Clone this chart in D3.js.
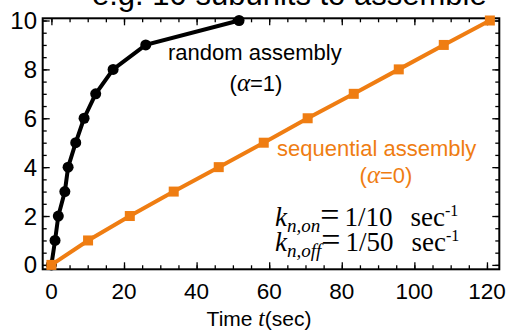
<!DOCTYPE html>
<html>
<head>
<meta charset="utf-8">
<script src="https://cdn.jsdelivr.net/npm/d3@7"></script>
<style>
  body { margin: 0; background: #fff; }
  svg { display: block; font-family: "Liberation Sans", Arial, sans-serif; }
</style>
</head>
<body>
<div id="area"></div>
<script>
// number of assembled subunits vs time
var randomTime = [0, 1.0, 1.9, 3.7, 4.6, 6.7, 9.0, 12.2, 17.0, 26.0, 51.7];
var randomCount = [0, 1, 2, 3, 4, 5, 6, 7, 8, 9, 10];
var seqTime = [0, 10.1, 21.6, 33.7, 46.1, 58.5, 70.6, 83.3, 95.7, 108.1, 120.8];
var seqCount = [0, 1, 2, 3, 4, 5, 6, 7, 8, 9, 10];
var xTicks = [0, 20, 40, 60, 80, 100, 120];
var yTicks = [0, 2, 4, 6, 8, 10];

var width = 507, height = 333;
var pLeft = 42.7, pRight = 499.3, pTop = 18.3, pBottom = 269.3;
var orange = "#ef7d12";

var x = d3.scaleLinear().domain([-2.4, 123.4]).range([pLeft, pRight]);
var y = d3.scaleLinear().domain([-0.18, 10.09]).range([pBottom, pTop]);

var svg = d3.select("#area")
  .append("svg")
  .attr("width", width)
  .attr("height", height);

// title, cut off at the top edge
svg.append("text")
  .attr("x", 92).attr("y", 5)
  .attr("font-size", 31)
  .text("e.g. 10 subunits to assemble");

// inward ticks on all four sides
var minorX = d3.range(0, 121, 5), minorY = d3.range(0, 10.01, 0.5);
function ticks(axis, vals, size, pos) {
  svg.append("g")
    .attr("transform", pos)
    .call(axis.tickValues(vals).tickSize(-size).tickFormat(""))
    .call(function (g) { g.select(".domain").remove(); })
    .selectAll("line").attr("stroke", "#000").attr("stroke-width", 1.3);
}
ticks(d3.axisBottom(x), minorX, 4, "translate(0," + pBottom + ")");
ticks(d3.axisBottom(x), xTicks, 7, "translate(0," + pBottom + ")");
ticks(d3.axisTop(x), minorX, 4, "translate(0," + pTop + ")");
ticks(d3.axisTop(x), xTicks, 7, "translate(0," + pTop + ")");
ticks(d3.axisLeft(y), minorY, 4, "translate(" + pLeft + ",0)");
ticks(d3.axisLeft(y), yTicks, 7, "translate(" + pLeft + ",0)");
ticks(d3.axisRight(y), minorY, 4, "translate(" + pRight + ",0)");
ticks(d3.axisRight(y), yTicks, 7, "translate(" + pRight + ",0)");

// tick labels
svg.append("g").selectAll("text")
  .data(xTicks).enter().append("text")
  .attr("x", function (d) { return x(d); })
  .attr("y", 299)
  .attr("text-anchor", "middle")
  .attr("font-size", 22.5)
  .text(function (d) { return d; });

svg.append("g").selectAll("text")
  .data(yTicks).enter().append("text")
  .attr("x", 37)
  .attr("y", function (d) { return y(d) + 8.5; })
  .attr("text-anchor", "end")
  .attr("font-size", 24)
  .text(function (d) { return d; });

// frame
svg.append("rect")
  .attr("x", pLeft).attr("y", pTop)
  .attr("width", pRight - pLeft).attr("height", pBottom - pTop)
  .attr("fill", "none").attr("stroke", "#000").attr("stroke-width", 2);

var line = d3.line()
  .x(function (d) { return x(d[0]); })
  .y(function (d) { return y(d[1]); });

var randomPts = d3.zip(randomTime, randomCount);
var seqPts = d3.zip(seqTime, seqCount);

svg.append("path")
  .datum(randomPts)
  .attr("d", line)
  .attr("fill", "none").attr("stroke", "#000").attr("stroke-width", 4);
svg.append("g").selectAll("circle")
  .data(randomPts).enter().append("circle")
  .attr("cx", function (d) { return x(d[0]); })
  .attr("cy", function (d) { return y(d[1]); })
  .attr("r", 5.5)
  .attr("fill", "#000");

svg.append("path")
  .datum(seqPts)
  .attr("d", line)
  .attr("fill", "none").attr("stroke", orange).attr("stroke-width", 4);
svg.append("g").selectAll("rect")
  .data(seqPts).enter().append("rect")
  .attr("x", function (d) { return x(d[0]) - 5; })
  .attr("y", function (d) { return y(d[1]) - 5; })
  .attr("width", 10).attr("height", 10)
  .attr("fill", orange);

// annotations
svg.append("text")
  .attr("x", 168).attr("y", 60)
  .attr("font-size", 22)
  .text("random assembly");
var a1 = svg.append("text")
  .attr("x", 256).attr("y", 91)
  .attr("text-anchor", "middle")
  .attr("font-size", 22);
a1.append("tspan").text("(");
a1.append("tspan").attr("font-family", "Liberation Serif").attr("font-style", "italic").attr("font-size", 25).text("α");
a1.append("tspan").text("=1)");

svg.append("text")
  .attr("x", 277).attr("y", 156)
  .attr("font-size", 22)
  .attr("fill", orange)
  .text("sequential assembly");
var a0 = svg.append("text")
  .attr("x", 386).attr("y", 183)
  .attr("text-anchor", "middle")
  .attr("font-size", 22)
  .attr("fill", orange);
a0.append("tspan").text("(");
a0.append("tspan").attr("font-family", "Liberation Serif").attr("font-style", "italic").attr("font-size", 25).text("α");
a0.append("tspan").text("=0)");

// rate constants
function rate(yPos, sub, val) {
  var t = svg.append("text")
    .attr("x", 275).attr("y", yPos)
    .attr("font-family", "Liberation Serif")
    .attr("font-size", 27);
  t.append("tspan").attr("font-style", "italic").text("k");
  t.append("tspan").attr("font-style", "italic").attr("font-size", 19).attr("dy", 6).text(sub);
  t.append("tspan").attr("dy", -6).attr("font-size", 34).text("=");
  t.append("tspan").attr("dx", 5).text(val);
  t.append("tspan").attr("dx", 18).text("sec");
  t.append("tspan").attr("font-size", 16).attr("dy", -10).text("-1");
}
rate(226, "n,on", "1/10");
rate(251, "n,off", "1/50");

// axis title
var xt = svg.append("text")
  .attr("x", 259).attr("y", 326)
  .attr("text-anchor", "middle")
  .attr("font-size", 21);
xt.append("tspan").text("Time ");
xt.append("tspan").attr("font-family", "Liberation Serif").attr("font-style", "italic").attr("font-size", 23).text("t");
xt.append("tspan").text("(sec)");
</script>
</body>
</html>
